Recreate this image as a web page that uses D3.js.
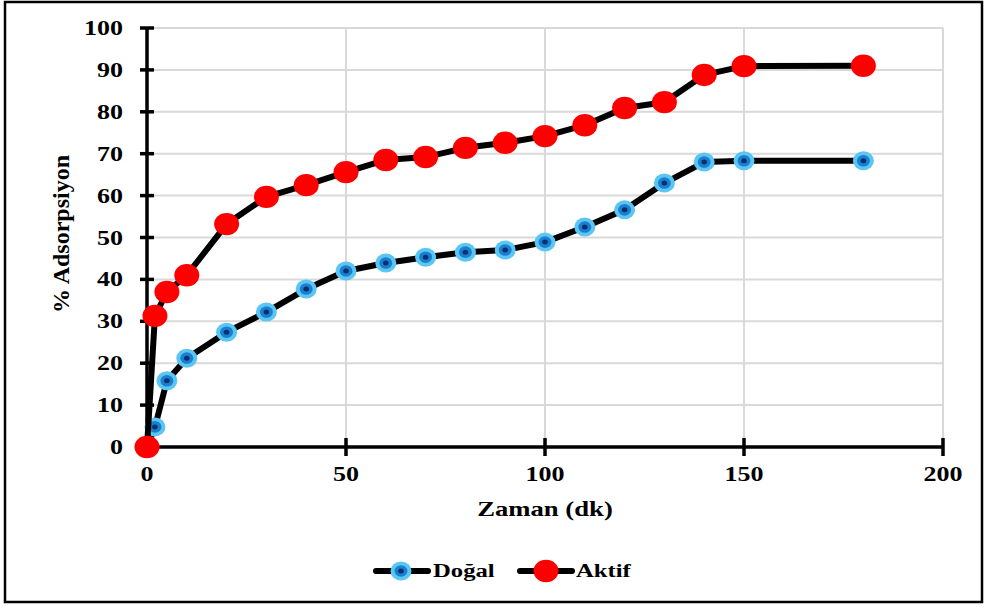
<!DOCTYPE html>
<html>
<head>
<meta charset="utf-8">
<script src="https://cdn.jsdelivr.net/npm/d3@7"></script>
<style>
html,body{margin:0;padding:0;background:#fff;}
svg{display:block;}
text{font-family:"Liberation Serif","Times New Roman",serif;font-weight:bold;fill:#000;}
</style>
</head>
<body>
<svg id="chart" width="984" height="607"></svg>
<script>
const time   = [0, 2, 5, 10, 20, 30, 40, 50, 60, 70, 80, 90, 100, 110, 120, 130, 140, 150, 180];
const dogal  = [0, 4.8, 15.8, 21.2, 27.4, 32.2, 37.7, 42.0, 43.9, 45.3, 46.5, 47.0, 48.9, 52.5, 56.6, 63.0, 68.0, 68.3, 68.3];
const aktif  = [0, 31.3, 37.0, 41.0, 53.2, 59.7, 62.5, 65.6, 68.5, 69.2, 71.4, 72.6, 74.2, 76.8, 80.9, 82.3, 88.8, 90.9, 91.0];
const xTicks = [0, 50, 100, 150, 200];
const yTicks = [0, 10, 20, 30, 40, 50, 60, 70, 80, 90, 100];
const seriesNames = ["Doğal", "Aktif"];
const xTitle = "Zaman (dk)";
const yTitle = "% Adsorpsiyon";

const svg = d3.select("#chart");
const x = d3.scaleLinear().domain([0, 200]).range([147, 943]);
const y = d3.scaleLinear().domain([0, 100]).range([447, 28]);
const SX = 1.3;

// frame
svg.append("rect").attr("x", 5).attr("y", 2).attr("width", 977).attr("height", 600)
  .attr("fill", "none").attr("stroke", "#000").attr("stroke-width", 2.5);

// gridlines
const grid = svg.append("g");
grid.selectAll("line.h").data(yTicks.filter(d => d > 0)).join("line")
  .attr("x1", x(0)).attr("x2", x(200)).attr("y1", d => y(d)).attr("y2", d => y(d))
  .attr("stroke", "#d9d9d9").attr("stroke-width", 2);
grid.selectAll("line.v").data(xTicks.filter(d => d > 0)).join("line")
  .attr("x1", d => x(d)).attr("x2", d => x(d)).attr("y1", y(100)).attr("y2", y(0))
  .attr("stroke", "#d9d9d9").attr("stroke-width", 2);

// axes
const ax = svg.append("g");
ax.append("line").attr("x1", x(0)).attr("x2", x(0)).attr("y1", y(100)).attr("y2", y(0))
  .attr("stroke", "#000").attr("stroke-width", 3.5);
ax.selectAll("line.yt").data(yTicks).join("line")
  .attr("x1", x(0) - 7).attr("x2", x(0) + 7).attr("y1", d => y(d)).attr("y2", d => y(d))
  .attr("stroke", "#000").attr("stroke-width", 3.5);
ax.append("line").attr("x1", x(0)).attr("x2", x(200)).attr("y1", y(0)).attr("y2", y(0))
  .attr("stroke", "#000").attr("stroke-width", 3.5);
ax.selectAll("line.xt").data(xTicks).join("line")
  .attr("x1", d => x(d)).attr("x2", d => x(d)).attr("y1", y(0) - 9).attr("y2", y(0) + 9)
  .attr("stroke", "#000").attr("stroke-width", 3.5);

function stext(parent, tx, ty, str, size, anchor, sx) {
  parent.append("g").attr("transform", `translate(${tx},${ty}) scale(${sx},1)`)
    .append("text").attr("text-anchor", anchor).style("font-size", size + "px").text(str);
}
const lab = svg.append("g");
yTicks.forEach(d => stext(lab, 123, y(d) + 7, d, 20, "end", SX));
xTicks.forEach(d => stext(lab, x(d), 481, d, 20, "middle", SX));
stext(lab, 545, 516, xTitle, 21, "middle", 1.27);
lab.append("g").attr("transform", "translate(69,234) rotate(-90)")
  .append("text").attr("text-anchor", "middle").style("font-size", "24px").text(yTitle);

// series
const line = d3.line().x(d => x(d[0])).y(d => y(d[1]));
const dData = time.map((t, i) => [t, dogal[i]]);
const aData = time.map((t, i) => [t, aktif[i]]);

function blueMarker(g, cx, cy) {
  g.append("ellipse").attr("cx", cx).attr("cy", cy).attr("rx", 10.5).attr("ry", 9.5).attr("fill", "#5cc6f2");
  g.append("ellipse").attr("cx", cx).attr("cy", cy).attr("rx", 6.5).attr("ry", 5.8).attr("fill", "#1b7fcf");
  g.append("ellipse").attr("cx", cx).attr("cy", cy).attr("rx", 2.8).attr("ry", 2.5).attr("fill", "#0a2f6e");
}
function redMarker(g, cx, cy) {
  g.append("ellipse").attr("cx", cx).attr("cy", cy).attr("rx", 12.5).attr("ry", 11.2).attr("fill", "#ff0000");
}

const sD = svg.append("g");
sD.append("path").datum(dData).attr("d", line).attr("fill", "none").attr("stroke", "#000")
  .attr("stroke-width", 6).attr("stroke-linejoin", "round").attr("stroke-linecap", "round");
dData.forEach(d => blueMarker(sD, x(d[0]), y(d[1])));

const sA = svg.append("g");
sA.append("path").datum(aData).attr("d", line).attr("fill", "none").attr("stroke", "#000")
  .attr("stroke-width", 6).attr("stroke-linejoin", "round").attr("stroke-linecap", "round");
aData.forEach(d => redMarker(sA, x(d[0]), y(d[1])));

// legend
const lg = svg.append("g");
const legItems = [
  {name: seriesNames[0], x0: 376, x1: 428, mx: 401, tx: 433, m: blueMarker},
  {name: seriesNames[1], x0: 520, x1: 572, mx: 546, tx: 576, m: redMarker}
];
legItems.forEach(it => {
  lg.append("line").attr("x1", it.x0).attr("x2", it.x1).attr("y1", 571).attr("y2", 571)
    .attr("stroke", "#000").attr("stroke-width", 6).attr("stroke-linecap", "round");
  it.m(lg, it.mx, 571);
  stext(lg, it.tx, 577, it.name, 19, "start", SX);
});
</script>
</body>
</html>
